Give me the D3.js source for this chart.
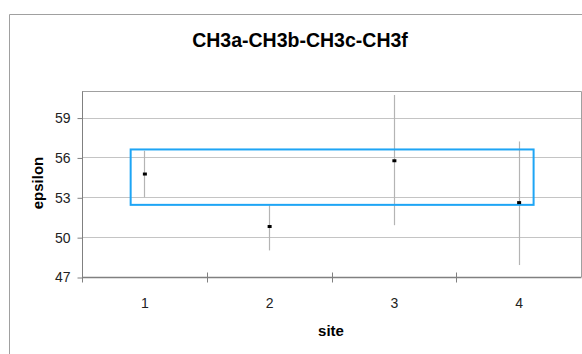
<!DOCTYPE html>
<html>
<head>
<meta charset="utf-8">
<script src="https://cdn.jsdelivr.net/npm/d3@7"></script>
<style>
  body { margin: 0; background: #fff; }
  svg { display: block; font-family: "Liberation Sans", Arial, sans-serif; }
</style>
</head>
<body>
<svg id="chart" width="582" height="354"></svg>
<script>
// data
const sites = [1, 2, 3, 4];
const epsilon = [54.75, 50.8, 55.75, 52.6];
const errLow = [53.0, 49.0, 50.9, 47.9];
const errHigh = [56.5, 52.4, 60.7, 57.2];
const yTicks = [47, 50, 53, 56, 59];
const boxSites = [0.89, 4.12];     // highlight box, in site units
const boxEps = [52.43, 56.6];      // highlight box, in epsilon units

const svg = d3.select("#chart");
const plot = {left: 82, right: 581, top: 91, bottom: 277};

const x = d3.scaleLinear().domain([0.5, 4.5]).range([plot.left, plot.right]);
const y = d3.scaleLinear().domain([47, 61]).range([plot.bottom, plot.top]);

// outer chart border (runs off the canvas on right/bottom)
svg.append("path")
    .attr("d", "M9.5,400V14.5H600")
    .attr("fill", "none")
    .attr("stroke", "#a0a0a0");

// title
svg.append("text")
    .attr("x", 300)
    .attr("y", 47)
    .attr("text-anchor", "middle")
    .style("font-size", "19.5px")
    .style("font-weight", "bold")
    .text("CH3a-CH3b-CH3c-CH3f");

// gridlines
svg.append("g")
    .selectAll("line")
    .data(yTicks.slice(1))
    .join("line")
    .attr("x1", plot.left).attr("x2", plot.right)
    .attr("y1", d => Math.round(y(d)) + 0.5).attr("y2", d => Math.round(y(d)) + 0.5)
    .attr("stroke", "#c4c4c4");

// plot frame top & right
svg.append("path")
    .attr("d", `M${plot.left},${plot.top + 0.5}H${plot.right + 0.5}V${plot.bottom}`)
    .attr("fill", "none")
    .attr("stroke", "#a0a0a0");

// y axis
const yAxis = svg.append("g")
    .attr("transform", `translate(${plot.left + 0.5},0.5)`)
    .call(d3.axisLeft(y).tickValues(yTicks).tickSize(5).tickPadding(7));
yAxis.select(".domain").attr("stroke", "#808080").attr("d", `M0,${plot.top}V${plot.bottom}`);
yAxis.selectAll(".tick line").attr("stroke", "#808080");
yAxis.selectAll(".tick text")
    .style("font-size", "14px")
    .style("font-family", "Liberation Sans, Arial, sans-serif")
    .attr("fill", "#222");

// x axis: category boundaries as crossing ticks, labels at centres
const xAxis = svg.append("g").attr("transform", `translate(0.5,${plot.bottom + 0.5})`);
xAxis.append("line")
    .attr("x1", plot.left).attr("x2", plot.right)
    .attr("stroke", "#808080").attr("stroke-width", 1.5);
xAxis.selectAll(".bound")
    .data([0.5, 1.5, 2.5, 3.5])
    .join("line")
    .attr("class", "bound")
    .attr("x1", d => Math.round(x(d))).attr("x2", d => Math.round(x(d)))
    .attr("y1", -5).attr("y2", 5)
    .attr("stroke", "#808080");
xAxis.selectAll("text")
    .data(sites)
    .join("text")
    .attr("x", d => x(d))
    .attr("y", 30)
    .attr("text-anchor", "middle")
    .style("font-size", "14px")
    .attr("fill", "#222")
    .text(d => d);

// axis titles
svg.append("text")
    .attr("transform", "translate(43,183) rotate(-90)")
    .attr("text-anchor", "middle")
    .style("font-size", "15px")
    .style("font-weight", "bold")
    .text("epsilon");
svg.append("text")
    .attr("x", 331)
    .attr("y", 336)
    .attr("text-anchor", "middle")
    .style("font-size", "15px")
    .style("font-weight", "bold")
    .text("site");

// error bars
svg.append("g")
    .selectAll("line")
    .data(sites)
    .join("line")
    .attr("x1", (d, i) => Math.round(x(d)) + 0.5)
    .attr("x2", (d, i) => Math.round(x(d)) + 0.5)
    .attr("y1", (d, i) => y(errHigh[i]))
    .attr("y2", (d, i) => y(errLow[i]))
    .attr("stroke", "#b4b4b4")
    .attr("stroke-width", 1.2);

// highlight box
svg.append("rect")
    .attr("x", x(boxSites[0]))
    .attr("y", y(boxEps[1]))
    .attr("width", x(boxSites[1]) - x(boxSites[0]))
    .attr("height", y(boxEps[0]) - y(boxEps[1]))
    .attr("fill", "none")
    .attr("stroke", "#1ea5f5")
    .attr("stroke-width", 2);

// markers
svg.append("g")
    .selectAll("rect")
    .data(sites)
    .join("rect")
    .attr("x", d => x(d) - 1.5)
    .attr("y", (d, i) => y(epsilon[i]) - 1.5)
    .attr("width", 4)
    .attr("height", 3)
    .attr("fill", "#000");
</script>
</body>
</html>
